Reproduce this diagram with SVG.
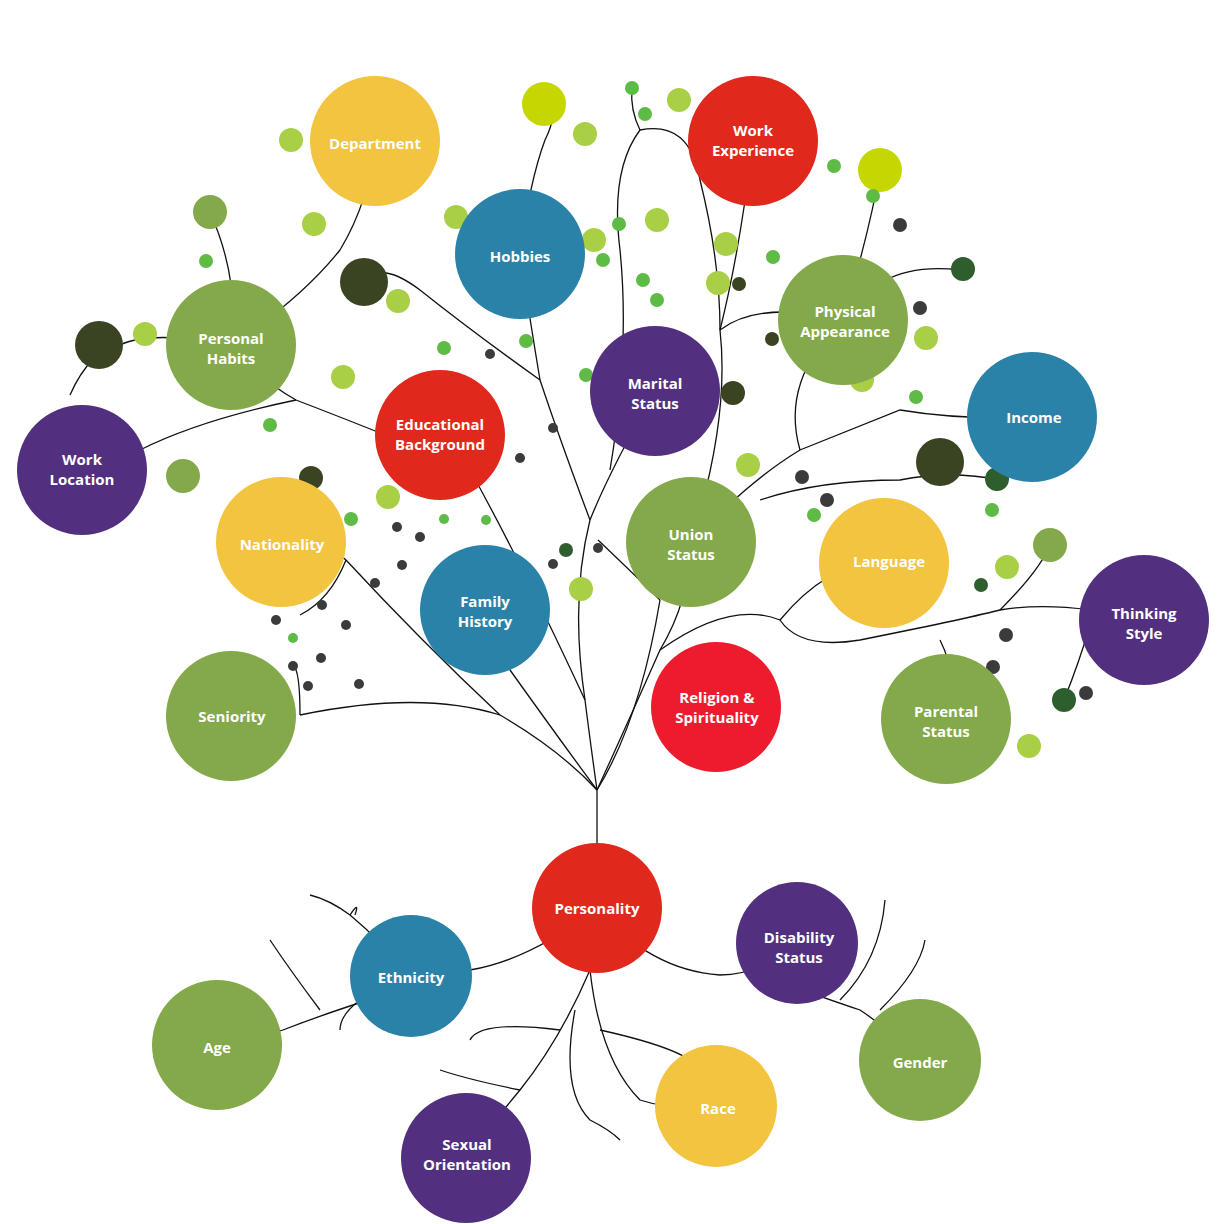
<svg xmlns="http://www.w3.org/2000/svg" width="1232" height="1224" viewBox="0 0 1232 1224">
<style>
.b{fill:none;stroke:#111;stroke-width:1.3}
.t{font-family:"Open Sans","Liberation Sans",sans-serif;font-weight:700;font-size:15px;fill:#fff;text-anchor:middle}
.y{fill:#F2C43F}.r{fill:#E0281C}.r2{fill:#EC1C2E}.bl{fill:#2B82A8}.g{fill:#84A94B}.p{fill:#52307F}
.d1{fill:#3A4423}.d2{fill:#3B3B3B}.d3{fill:#A8CF45}.d4{fill:#5DBB46}.d5{fill:#C5D600}.d6{fill:#2E5E2E}
</style>
<rect width="1232" height="1224" fill="#fff"/>
<g id="connectors">
<path class="b" d="M597,845 L597,790"/>
<path class="b" d="M597,790 Q560,740 510,670 Q500,630 485,610"/>
<path class="b" d="M597,790 Q590,740 585,700 Q570,600 590,520 Q610,470 655,391"/>
<path class="b" d="M597,790 Q640,720 660,600"/>
<path class="b" d="M597,790 Q620,740 660,650 Q690,600 691,542"/>
<path class="b" d="M597,790 Q560,750 500,715 Q420,690 300,715"/>
<path class="b" d="M500,715 Q420,640 346,560 Q300,520 281,542"/>
<path class="b" d="M585,700 Q520,560 470,470 Q450,450 440,435"/>
<path class="b" d="M470,470 Q400,440 296,400 Q260,380 231,345"/>
<path class="b" d="M296,400 Q200,420 140,450 Q110,460 82,470"/>
<path class="b" d="M231,345 Q300,300 340,250 Q370,200 375,141"/>
<path class="b" d="M231,345 Q150,330 120,345 Q90,350 70,395"/>
<path class="b" d="M231,345 Q240,280 210,212"/>
<path class="b" d="M590,520 Q560,440 540,380 Q530,320 520,254"/>
<path class="b" d="M540,380 Q470,330 420,290 Q380,260 365,282"/>
<path class="b" d="M520,254 Q530,180 545,140 Q560,110 544,104"/>
<path class="b" d="M610,470 Q630,350 620,250 Q610,170 640,130 Q690,120 700,180 Q720,260 720,330 Q730,420 691,542"/>
<path class="b" d="M640,130 Q630,110 632,88"/>
<path class="b" d="M720,330 Q740,250 753,141"/>
<path class="b" d="M720,330 Q760,300 843,320"/>
<path class="b" d="M691,542 Q750,480 800,450 Q850,430 900,410 Q960,420 1032,417"/>
<path class="b" d="M800,450 Q780,380 843,320"/>
<path class="b" d="M843,320 Q880,260 960,270"/>
<path class="b" d="M843,320 Q870,230 880,170"/>
<path class="b" d="M660,650 Q730,600 780,620 Q830,560 884,563"/>
<path class="b" d="M780,620 Q800,650 860,640 Q960,620 1000,610 Q1060,600 1144,620"/>
<path class="b" d="M940,640 Q960,680 946,719"/>
<path class="b" d="M1000,610 Q1040,570 1050,545"/>
<path class="b" d="M1090,625 Q1080,660 1064,700"/>
<path class="b" d="M760,500 Q820,480 900,480 Q950,470 1000,480"/>
<path class="b" d="M300,715 Q300,670 293,665"/>
<path class="b" d="M346,560 Q330,600 300,615"/>
<path class="b" d="M660,600 Q640,580 598,540"/>
<path class="b" d="M597,908 Q530,960 470,970 Q420,980 411,976"/>
<path class="b" d="M470,970 Q360,1000 283,1030 Q250,1040 217,1045"/>
<path class="b" d="M411,976 Q380,940 350,915 Q330,900 310,895"/>
<path class="b" d="M350,915 Q360,900 355,915"/>
<path class="b" d="M360,1000 Q340,1015 340,1030"/>
<path class="b" d="M320,1010 Q290,970 270,940"/>
<path class="b" d="M597,908 Q650,970 720,975 Q760,975 797,943"/>
<path class="b" d="M760,975 Q830,1000 860,1010 Q890,1030 920,1060"/>
<path class="b" d="M840,1000 Q880,960 885,900"/>
<path class="b" d="M880,1010 Q920,970 925,940"/>
<path class="b" d="M590,970 Q560,1040 520,1090 Q495,1120 466,1158"/>
<path class="b" d="M590,970 Q600,1060 640,1100 Q670,1110 716,1106"/>
<path class="b" d="M575,1010 Q560,1090 590,1120 Q610,1130 620,1140"/>
<path class="b" d="M520,1090 Q470,1080 440,1070"/>
<path class="b" d="M600,1030 Q690,1050 700,1070"/>
<path class="b" d="M560,1030 Q480,1020 470,1040"/>
</g>
<g id="dots">
<circle class="d3" cx="291" cy="140" r="12"/><circle class="d3" cx="314" cy="224" r="12"/><circle class="g" cx="210" cy="212" r="17"/>
<circle class="d4" cx="206" cy="261" r="7"/><circle class="d1" cx="364" cy="282" r="24"/><circle class="d3" cx="398" cy="301" r="12"/>
<circle class="d1" cx="99" cy="345" r="24"/><circle class="d3" cx="145" cy="334" r="12"/><circle class="g" cx="183" cy="476" r="17"/>
<circle class="d4" cx="270" cy="425" r="7"/><circle class="d3" cx="343" cy="377" r="12"/><circle class="d1" cx="311" cy="478" r="12"/>
<circle class="d5" cx="544" cy="104" r="22"/><circle class="d4" cx="632" cy="88" r="7"/><circle class="d3" cx="585" cy="134" r="12"/>
<circle class="d4" cx="645" cy="114" r="7"/><circle class="d3" cx="679" cy="100" r="12"/><circle class="d3" cx="456" cy="217" r="12"/>
<circle class="d3" cx="594" cy="240" r="12"/><circle class="d4" cx="619" cy="224" r="7"/><circle class="d3" cx="657" cy="220" r="12"/>
<circle class="d4" cx="643" cy="280" r="7"/><circle class="d4" cx="657" cy="300" r="7"/><circle class="d4" cx="603" cy="260" r="7"/>
<circle class="d3" cx="726" cy="244" r="12"/><circle class="d3" cx="718" cy="283" r="12"/><circle class="d1" cx="739" cy="284" r="7"/>
<circle class="d4" cx="773" cy="257" r="7"/><circle class="d1" cx="733" cy="393" r="12"/><circle class="d1" cx="772" cy="339" r="7"/>
<circle class="d5" cx="880" cy="170" r="22"/><circle class="d4" cx="834" cy="166" r="7"/><circle class="d4" cx="873" cy="196" r="7"/>
<circle class="d2" cx="900" cy="225" r="7"/><circle class="d6" cx="963" cy="269" r="12"/><circle class="d2" cx="920" cy="308" r="7"/>
<circle class="d3" cx="926" cy="338" r="12"/><circle class="d3" cx="862" cy="380" r="12"/><circle class="d4" cx="916" cy="397" r="7"/>
<circle class="d1" cx="940" cy="462" r="24"/><circle class="d6" cx="997" cy="479" r="12"/><circle class="d4" cx="992" cy="510" r="7"/>
<circle class="d3" cx="748" cy="465" r="12"/><circle class="d2" cx="802" cy="477" r="7"/><circle class="d2" cx="827" cy="500" r="7"/>
<circle class="d4" cx="814" cy="515" r="7"/><circle class="d3" cx="1007" cy="567" r="12"/><circle class="d6" cx="981" cy="585" r="7"/>
<circle class="g" cx="1050" cy="545" r="17"/><circle class="d2" cx="1006" cy="635" r="7"/><circle class="d2" cx="993" cy="667" r="7"/>
<circle class="d6" cx="1064" cy="700" r="12"/><circle class="d2" cx="1086" cy="693" r="7"/><circle class="d3" cx="1029" cy="746" r="12"/>
<circle class="d4" cx="444" cy="348" r="7"/><circle class="d2" cx="490" cy="354" r="5"/><circle class="d4" cx="526" cy="341" r="7"/>
<circle class="d4" cx="586" cy="375" r="7"/><circle class="d2" cx="553" cy="428" r="5"/><circle class="d2" cx="520" cy="458" r="5"/>
<circle class="d3" cx="388" cy="497" r="12"/><circle class="d4" cx="351" cy="519" r="7"/><circle class="d2" cx="397" cy="527" r="5"/>
<circle class="d2" cx="420" cy="537" r="5"/><circle class="d2" cx="402" cy="565" r="5"/><circle class="d2" cx="375" cy="583" r="5"/>
<circle class="d2" cx="322" cy="605" r="5"/><circle class="d2" cx="346" cy="625" r="5"/><circle class="d2" cx="276" cy="620" r="5"/>
<circle class="d4" cx="293" cy="638" r="5"/><circle class="d2" cx="293" cy="666" r="5"/><circle class="d2" cx="321" cy="658" r="5"/>
<circle class="d2" cx="308" cy="686" r="5"/><circle class="d2" cx="359" cy="684" r="5"/><circle class="d3" cx="581" cy="589" r="12"/>
<circle class="d6" cx="566" cy="550" r="7"/><circle class="d2" cx="598" cy="548" r="5"/><circle class="d2" cx="553" cy="564" r="5"/>
<circle class="d4" cx="444" cy="519" r="5"/><circle class="d4" cx="486" cy="520" r="5"/>
</g>
<g id="nodes">
<g id="n-department"><circle class="y" cx="375" cy="141" r="65"/><text class="t" x="375" y="149">Department</text></g>
<g id="n-workexp"><circle class="r" cx="753" cy="141" r="65"/><text class="t" x="753" y="136">Work</text><text class="t" x="753" y="156">Experience</text></g>
<g id="n-hobbies"><circle class="bl" cx="520" cy="254" r="65"/><text class="t" x="520" y="262">Hobbies</text></g>
<g id="n-habits"><circle class="g" cx="231" cy="345" r="65"/><text class="t" x="231" y="344">Personal</text><text class="t" x="231" y="364">Habits</text></g>
<g id="n-physical"><circle class="g" cx="843" cy="320" r="65"/><text class="t" x="845" y="317">Physical</text><text class="t" x="845" y="337">Appearance</text></g>
<g id="n-marital"><circle class="p" cx="655" cy="391" r="65"/><text class="t" x="655" y="389">Marital</text><text class="t" x="655" y="409">Status</text></g>
<g id="n-edu"><circle class="r" cx="440" cy="435" r="65"/><text class="t" x="440" y="430">Educational</text><text class="t" x="440" y="450">Background</text></g>
<g id="n-income"><circle class="bl" cx="1032" cy="417" r="65"/><text class="t" x="1034" y="423">Income</text></g>
<g id="n-workloc"><circle class="p" cx="82" cy="470" r="65"/><text class="t" x="82" y="465">Work</text><text class="t" x="82" y="485">Location</text></g>
<g id="n-nationality"><circle class="y" cx="281" cy="542" r="65"/><text class="t" x="282" y="550">Nationality</text></g>
<g id="n-union"><circle class="g" cx="691" cy="542" r="65"/><text class="t" x="691" y="540">Union</text><text class="t" x="691" y="560">Status</text></g>
<g id="n-language"><circle class="y" cx="884" cy="563" r="65"/><text class="t" x="889" y="567">Language</text></g>
<g id="n-family"><circle class="bl" cx="485" cy="610" r="65"/><text class="t" x="485" y="607">Family</text><text class="t" x="485" y="627">History</text></g>
<g id="n-thinking"><circle class="p" cx="1144" cy="620" r="65"/><text class="t" x="1144" y="619">Thinking</text><text class="t" x="1144" y="639">Style</text></g>
<g id="n-seniority"><circle class="g" cx="231" cy="716" r="65"/><text class="t" x="232" y="722">Seniority</text></g>
<g id="n-religion"><circle class="r2" cx="716" cy="707" r="65"/><text class="t" x="717" y="703">Religion &amp;</text><text class="t" x="717" y="723">Spirituality</text></g>
<g id="n-parental"><circle class="g" cx="946" cy="719" r="65"/><text class="t" x="946" y="717">Parental</text><text class="t" x="946" y="737">Status</text></g>
<g id="n-personality"><circle class="r" cx="597" cy="908" r="65"/><text class="t" x="597" y="914">Personality</text></g>
<g id="n-disability"><circle class="p" cx="797" cy="943" r="61"/><text class="t" x="799" y="943">Disability</text><text class="t" x="799" y="963">Status</text></g>
<g id="n-ethnicity"><circle class="bl" cx="411" cy="976" r="61"/><text class="t" x="411" y="983">Ethnicity</text></g>
<g id="n-age"><circle class="g" cx="217" cy="1045" r="65"/><text class="t" x="217" y="1053">Age</text></g>
<g id="n-gender"><circle class="g" cx="920" cy="1060" r="61"/><text class="t" x="920" y="1068">Gender</text></g>
<g id="n-race"><circle class="y" cx="716" cy="1106" r="61"/><text class="t" x="718" y="1114">Race</text></g>
<g id="n-sexual"><circle class="p" cx="466" cy="1158" r="65"/><text class="t" x="467" y="1150">Sexual</text><text class="t" x="467" y="1170">Orientation</text></g>
</g>
</svg>
